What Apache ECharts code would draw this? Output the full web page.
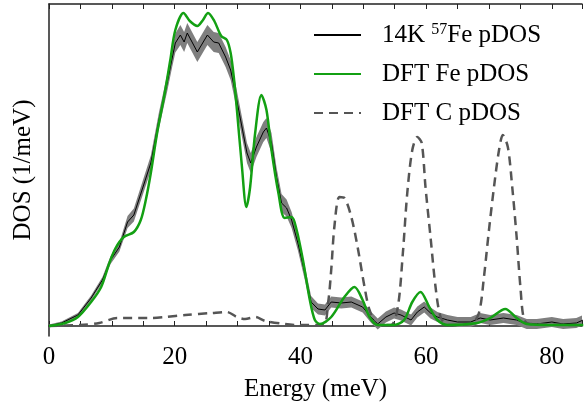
<!DOCTYPE html>
<html>
<head>
<meta charset="utf-8">
<script src="https://cdn.jsdelivr.net/npm/echarts@6/dist/echarts.min.js"></script>
<style>html,body{margin:0;padding:0;background:#fff;}#c{width:585px;height:410px;}</style>
</head>
<body>
<div id="c"></div>
<script>
// Measured 14K 57Fe pDOS (energy in meV, DOS in arbitrary units)
const expE = [0,2,4.6,6.7,8.5,9.8,11.2,12.5,13.5,14.8,16.2,17.5,18.8,19.6,20.1,20.9,21.5,22,23.6,25.2,26.2,27,28.1,28.9,29.5,30.7,31.5,32.1,33,34.1,34.6,35.4,36.2,37,37.8,38.6,39.6,40.7,41.7,42.8,43.9,44.9,46.5,48.1,49.9,51.2,52.3,53.6,54.9,56,57.6,58.6,59.7,60.7,61.8,63.4,65,67.1,68.6,70.2,72.3,74.4,76,77.6,80,81.8,83.9,85];
const expV = [0,3,11,28,46,66,79,104,111,136,163,206,243,268,283,291,284,293,274,291,284,283,269,256,238,199,173,163,179,194,198,183,149,123,118,106,83,53,24,17,16,24,23,24,19,9,2,9,13,11,6,14,19,13,9,6,4,4,8,6,8,6,2,2,4,2,3,6];
const expErr = [1.5,1.5,2,2.5,3,4,4.5,6,6.5,7,7.5,8,8.5,9,9.5,10,10,10,10,10,10,10,10,10,10,10,10,10,10,10,10,10,9.5,9,8.5,8,7.5,7,6,5.5,5.5,5.5,5.5,5.5,5.5,5.5,5.5,5.5,5.5,5.5,5.5,5.5,5.5,5.5,5,5,5,5,5,5,5,5,5,5,5,5,5,5];
// DFT Fe pDOS
const feE = [0,2.6,4.6,6.7,8.3,9.6,10.6,11.9,13.5,14.6,15.4,16.2,17.2,18.3,19.3,20.1,21.4,22.4,23.6,24.5,25.3,26.3,27.4,28.3,28.9,29.4,29.9,30.7,31.4,32,32.8,33.8,34.6,35.4,36.5,37.5,38.6,39.4,40.4,41.5,42.3,43.1,44.9,47,48.6,49.9,51,52.3,54.9,56.5,57.8,59.1,60.5,61.8,63.4,68.1,70.2,72.6,74.4,76,80,85];
const feV = [0,3,9,24,39,63,78,89,94,106,126,153,193,229,266,296,313,305,300,306,313,305,290,286,273,249,216,159,119,139,193,231,216,176,133,108,109,96,66,26,6,2,9,29,39,26,9,1,1,6,24,34,19,6,1,3,8,17,8,2,1,1];
// DFT C pDOS
const cE = [0,4.8,8,10.9,15.9,18.5,21.7,25.9,28.3,29.9,31.2,32.8,34.4,37.5,39.6,43.6,44.4,44.9,45.4,46.2,47,48.1,49.1,50.2,51,52.3,54.4,55.5,56.3,57,57.8,58.6,59.3,59.9,60.7,61.5,62.3,63.4,67.1,68.4,69.2,70,70.8,71.6,72.2,73,73.7,74.4,75,75.6,76.6,85];
const cV = [0,1,3,8,8,9,11,13,14,9,7,9,5,2,1,1,23,56,99,129,128,109,79,39,16,1,1,19,73,133,176,189,183,139,89,39,9,1,2,13,49,96,139,176,191,179,139,89,39,6,2,1];
// Tick labels
const xTickLabels = [0,20,40,60,80];
const seriesNames = ['14K 57Fe pDOS','DFT Fe pDOS','DFT C pDOS'];

const FONT = 'Liberation Serif';
const zip = (a,b) => a.map((x,i)=>[x,b[i]]);

const chart = echarts.init(document.getElementById('c'), null, {renderer:'canvas'});
const axisCommon = {
  type:'value', min:0, max:84.8, interval:5,
  axisLine:{show:true, lineStyle:{color:'#222', width:1.5}},
  axisTick:{show:true, inside:true, length:5, lineStyle:{color:'#222', width:1}},
  splitLine:{show:false}
};
chart.setOption({
  animation:false,
  backgroundColor:'#fff',
  grid:{left:49, right:0, top:4, bottom:74},
  legend:{
    orient:'vertical', left:313, top:22, padding:0, itemWidth:47, itemHeight:25, itemGap:14,
    data:seriesNames,
    itemStyle:{opacity:0},
    formatter: n => n===seriesNames[0] ? '14K {sup|57}Fe pDOS' : n,
    textStyle:{fontFamily:FONT, fontSize:25, color:'#000', padding:[0,0,0,16],
      rich:{sup:{fontFamily:FONT, fontSize:16, color:'#000', padding:[0,0,10,0]}}}
  },
  xAxis:[
    Object.assign({}, axisCommon, {
      position:'bottom',
      name:'Energy (meV)', nameLocation:'middle', nameGap:41,
      nameTextStyle:{fontFamily:FONT, fontSize:25, color:'#000'},
      axisLabel:{show:true, margin:9, fontFamily:FONT, fontSize:25, color:'#000',
        formatter: v => xTickLabels.includes(v) ? String(v) : ''}
    }),
    Object.assign({}, axisCommon, {position:'top', axisLabel:{show:false}})
  ],
  yAxis:{
    type:'value', min:-10, max:322,
    name:'DOS (1/meV)', nameLocation:'middle', nameGap:13,
    nameTextStyle:{fontFamily:FONT, fontSize:25, color:'#000'},
    axisLine:{show:true, lineStyle:{color:'#222', width:1.5}},
    axisTick:{show:false}, axisLabel:{show:false}, splitLine:{show:false}
  },
  series:[
    {name:'errBand', type:'custom', data:[0], silent:true, clip:true,
      renderItem:(params, api) => {
        const up = expE.map((x,i)=>api.coord([x, expV[i]+expErr[i]]));
        const lo = expE.map((x,i)=>api.coord([x, expV[i]-expErr[i]])).reverse();
        return {type:'polygon', shape:{points:up.concat(lo)}, style:{fill:'#7f7f7f', stroke:'none'}};
      }},
    {name:seriesNames[0], type:'line', data:zip(expE,expV), symbol:'circle', showSymbol:false,
      lineStyle:{color:'#000', width:1}, itemStyle:{color:'#000'}},
    {name:seriesNames[2], type:'line', data:zip(cE,cV), symbol:'circle', showSymbol:false, smooth:0.3,
      lineStyle:{color:'#555', width:2.5, type:[9,6]}, itemStyle:{color:'#555'}},
    {name:seriesNames[1], type:'line', data:zip(feE,feV), symbol:'circle', showSymbol:false, smooth:0.3,
      lineStyle:{color:'#13a013', width:2.5}, itemStyle:{color:'#13a013'}}
  ]
});
</script>
</body>
</html>
